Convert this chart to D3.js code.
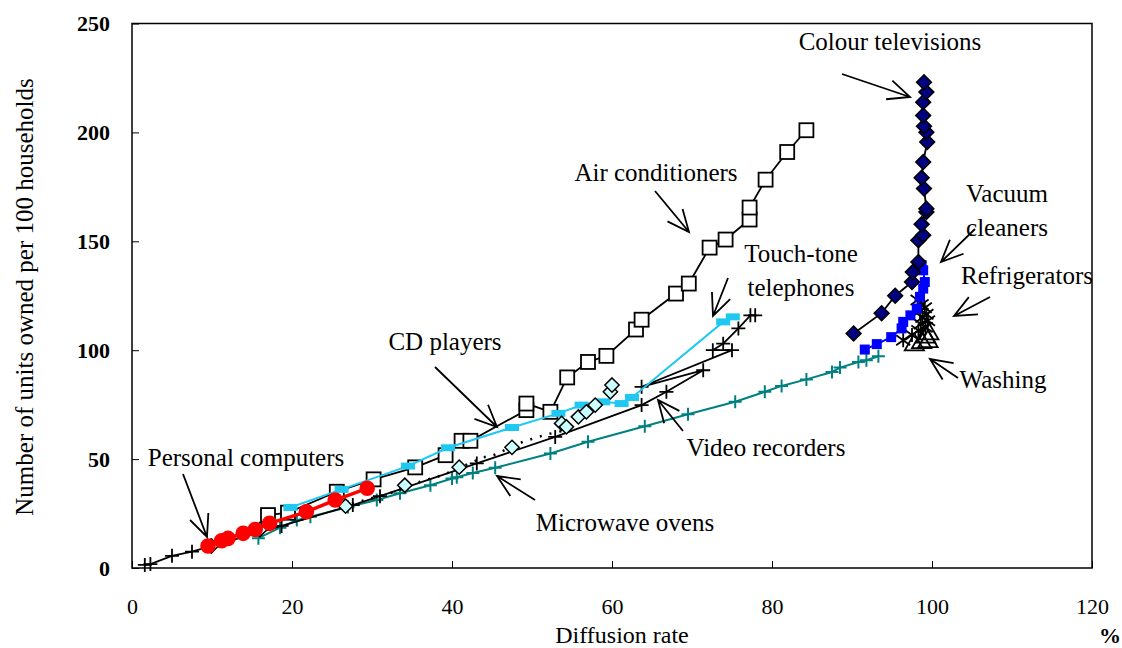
<!DOCTYPE html>
<html>
<head>
<meta charset="utf-8">
<script src="https://cdn.jsdelivr.net/npm/d3@7"></script>
<style>
  body { margin: 0; background: #fff; }
</style>
</head>
<body>
<div class="container"></div>
<script>
// data, [diffusion rate %, units per 100 households]
var personalComputers = [[9.5,10.1],[11.2,12.5],[12,13.6],[13.9,15.9],[15.4,17.7],[17.2,20.5],[21.8,25.8],[25.4,31.2],[29.4,36.6]];
var cdPlayers = [[9.9,10.1],[16,17.7],[26.7,28.4],[34.1,38],[40.9,46.3],[47.5,55.4],[53.7,66.4],[54.3,64.8],[55.8,69.4],[56.8,71.7],[57.9,74.8],[59.8,80.9],[60,84]];
var dottedTrend = [[27.5,29.6],[32.9,35],[36,39.6],[38.9,42.7],[43.9,50.8],[45.2,51.8],[48.9,58],[51.8,61.3],[54.5,63.5]];
var videoRecorders = [[1.6,1.4],[2.3,1.8],[5,5.6],[7.5,7.5],[10,10.2],[18.7,19.3],[27.6,28.9],[31,33],[43.1,48],[52.9,60.2],[63.7,74.8],[66.8,80.9],[71.4,90.8],[63.7,83.2],[75,100],[72.6,100],[73.9,103],[75.8,110],[77.3,116],[77.9,116]];
var microwaveOvens = [[15.8,13.7],[18.5,18.5],[20.6,22],[22.3,23.5],[27,28],[30.6,31.2],[33.5,34.3],[37.3,38],[40,41.1],[40.6,41.7],[42.6,43.6],[45.4,46],[52.3,52.6],[57,58],[64.1,65.1],[69.5,70.6],[75.4,76.3],[79.1,80.9],[81.2,83.6],[84.3,86.6],[87.5,90],[88.5,92],[90.8,94.6],[91.8,95.4],[93.3,97.2]];
var touchTone = [[19.8,27.8],[26.2,36.1],[34.5,46.8],[39.5,55.2],[47.5,64.5],[53.3,71],[56.2,74.8],[58.9,76.3],[61.2,75.5],[62.5,78.3],[73.9,113],[75.1,115.3]];
var airConditioners = [[17,24.3],[19.5,25.4],[25.6,35],[30.2,40.7],[35.4,46.2],[39.2,51.8],[41.2,58.4],[42.3,58.4],[49.3,72.5],[49.3,75.5],[52.3,71.7],[54.4,87.5],[57,94.6],[59.3,97.4],[63,109.5],[63.7,114],[68,126],[69.6,130.6],[72.2,147.1],[74.2,150.8],[77.2,160],[77.2,165.5],[79.2,178.3],[81.9,191],[84.3,201]];
var colourTV = [[90.2,107.7],[93.7,117],[95.4,125],[97.5,131.3],[97.6,135.9],[98.3,140.5],[98.3,150.5],[98.9,152.8],[98.7,157.8],[99.3,163.4],[99.3,165],[99,174.2],[98.7,179.2],[98.9,186.4],[99.4,195.6],[99.3,200.1],[99,202.8],[98.9,207.8],[98.9,213.9],[99.3,218.5],[99,223]];
var vacuumCleaners = [[91.6,100.3],[93.1,102.8],[94.9,106],[96.2,110],[96.4,113],[97.3,116],[98.1,119.1],[98.5,124.5],[98.9,128.3],[99.1,131.3],[98.9,136.7],[98.7,139]];
var refrigerators = [[96.4,104.6],[97.5,107],[98.3,109],[99.2,110.5],[98.6,112],[99.5,113.5],[98.8,115],[99.3,116.5],[98.5,118],[99.1,119.5],[98.7,121],[98.2,123]];
var washing = [[97.8,102.5],[98.7,103.5],[99.5,104],[99.2,106],[99.6,107.5]];

var xTicks = [0, 20, 40, 60, 80, 100, 120];
var yTicks = [0, 50, 100, 150, 200, 250];

// labels: text lines, anchor point, arrow from -> to
var labels = [
  { lines: ["Colour televisions"], at: [890, 42], from: [842, 74], to: [910, 97] },
  { lines: ["Vacuum", "cleaners"], at: [1007, 194], from: [975, 229], to: [941, 262] },
  { lines: ["Refrigerators"], at: [1027, 276], from: [990, 297], to: [954, 316] },
  { lines: ["Washing"], at: [1003, 380], from: [958, 378], to: [930, 359] },
  { lines: ["Air conditioners"], at: [656, 173], from: [655, 191], to: [689, 232] },
  { lines: ["Touch-tone", "telephones"], at: [801, 254], from: [728, 278], to: [713, 316] },
  { lines: ["CD players"], at: [445, 342], from: [435, 367], to: [497, 427] },
  { lines: ["Personal computers"], at: [246, 458], from: [183, 474], to: [207, 537] },
  { lines: ["Video recorders"], at: [766, 448], from: [683, 431], to: [658, 400] },
  { lines: ["Microwave ovens"], at: [625, 523], from: [535, 500], to: [497, 476] }
];

var serif = "Liberation Serif";
var width = 1122;
var height = 648;

var svg = d3
  .select(".container")
  .append("svg")
  .attr("width", width)
  .attr("height", height);

var x = d3.scaleLinear().domain([0, 120]).range([132, 1092]);
var y = d3.scaleLinear().domain([0, 250]).range([568, 23.5]);

// axes, ticks pointing inward
svg.append("g")
  .attr("transform", "translate(0,568)")
  .call(d3.axisBottom(x).tickValues(xTicks).tickSize(-7).tickPadding(30))
  .call(function (g) {
    g.select(".domain").remove();
    g.selectAll("text").style("font-family", serif).style("font-size", "22px").attr("fill", "#000");
  });

svg.append("g")
  .attr("transform", "translate(132,0)")
  .call(d3.axisLeft(y).tickValues(yTicks).tickSize(-7).tickPadding(22))
  .call(function (g) {
    g.select(".domain").remove();
    g.selectAll("text").style("font-family", serif).style("font-size", "22px").style("font-weight", "bold").attr("fill", "#000");
  });

svg.append("rect")
  .attr("x", 132).attr("y", 23.5)
  .attr("width", 960).attr("height", 544.5)
  .attr("fill", "none").attr("stroke", "#000").attr("stroke-width", 1.5);

svg.append("text")
  .attr("transform", "translate(33,297) rotate(-90)")
  .attr("text-anchor", "middle")
  .style("font-family", serif)
  .style("font-size", "25px")
  .text("Number of units owned per 100 households");

svg.append("text")
  .attr("x", 622).attr("y", 643)
  .attr("text-anchor", "middle")
  .style("font-family", serif)
  .style("font-size", "24px")
  .text("Diffusion rate");

svg.append("text")
  .attr("x", 1110).attr("y", 643)
  .attr("text-anchor", "middle")
  .style("font-family", serif)
  .style("font-size", "22px")
  .style("font-weight", "bold")
  .text("%");

var line = d3.line()
  .x(function (d) { return x(d[0]); })
  .y(function (d) { return y(d[1]); });

function drawLine(data, color, w, dash) {
  svg.append("path")
    .datum(data)
    .attr("d", line)
    .attr("fill", "none")
    .attr("stroke", color)
    .attr("stroke-width", w)
    .attr("stroke-dasharray", dash || null);
}

function drawMarkers(data, shape, size, fill, stroke, sw) {
  svg.append("g")
    .selectAll("path")
    .data(data)
    .enter()
    .append("path")
    .attr("transform", function (d) { return "translate(" + x(d[0]) + "," + y(d[1]) + ")"; })
    .attr("d", d3.symbol().type(shape).size(size))
    .attr("fill", fill)
    .attr("stroke", stroke)
    .attr("stroke-width", sw);
}

function drawPlus(data, color, r, sw) {
  svg.append("g")
    .selectAll("path")
    .data(data)
    .enter()
    .append("path")
    .attr("d", function (d) {
      var cx = x(d[0]), cy = y(d[1]);
      return "M" + (cx - r) + "," + cy + "H" + (cx + r) + "M" + cx + "," + (cy - r) + "V" + (cy + r);
    })
    .attr("stroke", color).attr("stroke-width", sw);
}

// teal microwave ovens
drawLine(microwaveOvens, "#008080", 2);
drawPlus(microwaveOvens, "#008080", 6.5, 2);

// video recorders
drawLine(videoRecorders, "#000", 1.8);
drawPlus(videoRecorders, "#000", 7, 1.8);

// dotted line near CD players
drawLine(dottedTrend, "#000", 2.5, "2,8");

// air conditioners
drawLine(airConditioners, "#000", 1.8);
svg.append("g")
  .selectAll("rect")
  .data(airConditioners)
  .enter()
  .append("rect")
  .attr("x", function (d) { return x(d[0]) - 7; })
  .attr("y", function (d) { return y(d[1]) - 7; })
  .attr("width", 14).attr("height", 14)
  .attr("fill", "#fff").attr("stroke", "#000").attr("stroke-width", 1.8);

// touch-tone telephones
drawLine(touchTone, "#1ec8f0", 2);
svg.append("g")
  .selectAll("rect")
  .data(touchTone)
  .enter()
  .append("rect")
  .attr("x", function (d) { return x(d[0]) - 7; })
  .attr("y", function (d) { return y(d[1]) - 3.5; })
  .attr("width", 14).attr("height", 7)
  .attr("fill", "#1ec8f0");

// CD players
drawMarkers(cdPlayers, d3.symbolDiamond2, 130, "#ccffff", "#000", 1.5);

// personal computers
drawLine(personalComputers, "#ff0000", 3.5);
drawMarkers(personalComputers, d3.symbolCircle, 190, "#ff0000", "none", 0);

// refrigerators: asterisks
svg.append("g")
  .selectAll("path")
  .data(refrigerators)
  .enter()
  .append("path")
  .attr("d", function (d) {
    var cx = x(d[0]), cy = y(d[1]);
    return "M" + (cx - 7) + "," + (cy - 5) + "L" + (cx + 7) + "," + (cy + 5) +
      "M" + (cx - 7) + "," + (cy + 5) + "L" + (cx + 7) + "," + (cy - 5) +
      "M" + cx + "," + (cy - 7) + "V" + (cy + 7);
  })
  .attr("stroke", "#000").attr("stroke-width", 1.8);
drawLine(refrigerators, "#000", 1.5);

// washing machines: open triangles
drawMarkers(washing, d3.symbolTriangle, 160, "none", "#000", 1.8);

// vacuum cleaners
drawLine(vacuumCleaners, "#0000ff", 2);
drawMarkers(vacuumCleaners, d3.symbolSquare, 100, "#0000ff", "none", 0);

// colour televisions
drawLine(colourTV, "#000", 1.8);
drawMarkers(colourTV, d3.symbolDiamond2, 140, "#000080", "#000", 1.5);

// annotations with open arrowheads
labels.forEach(function (l) {
  var t = svg.append("text")
    .attr("x", l.at[0]).attr("y", l.at[1] + 8)
    .attr("text-anchor", "middle")
    .style("font-family", serif)
    .style("font-size", "25px");
  l.lines.forEach(function (s, i) {
    t.append("tspan").attr("x", l.at[0]).attr("dy", i === 0 ? 0 : 34).text(s);
  });

  var dx = l.to[0] - l.from[0], dy = l.to[1] - l.from[1];
  var a = Math.atan2(dy, dx);
  var len = 24, spread = 0.42;
  var p1 = [l.to[0] - len * Math.cos(a - spread), l.to[1] - len * Math.sin(a - spread)];
  var p2 = [l.to[0] - len * Math.cos(a + spread), l.to[1] - len * Math.sin(a + spread)];
  svg.append("path")
    .attr("d", "M" + l.from + "L" + l.to + "M" + p1 + "L" + l.to + "L" + p2)
    .attr("fill", "none")
    .attr("stroke", "#000")
    .attr("stroke-width", 1.8);
});
</script>
</body>
</html>
